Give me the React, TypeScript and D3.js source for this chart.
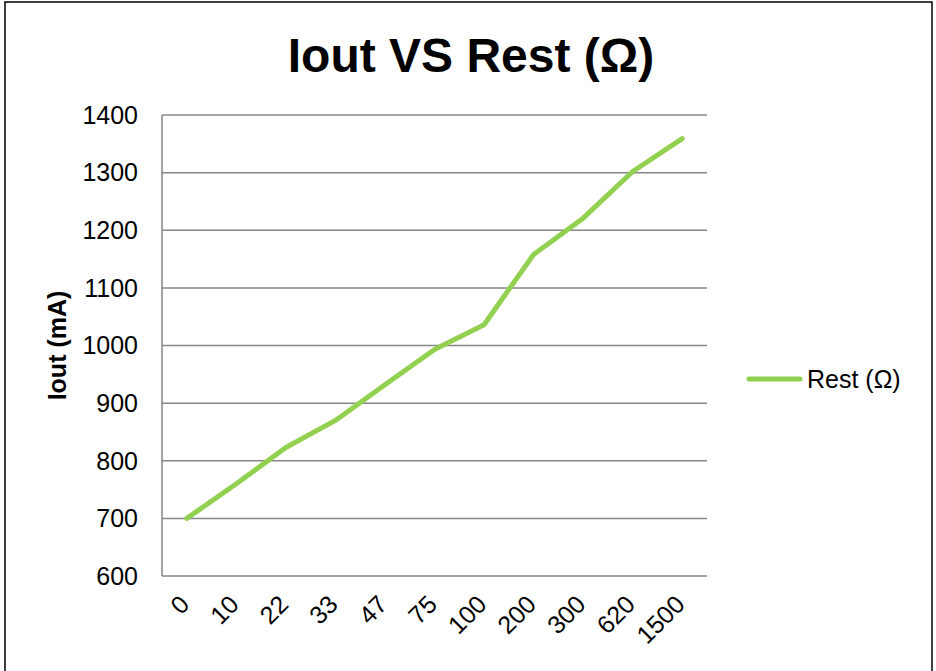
import { useEffect, useRef } from 'react';
import * as d3 from 'd3';

// category labels (Rest in ohm) and measured Iout values (mA)
const restLabels = ['0', '10', '22', '33', '47', '75', '100', '200', '300', '620', '1500'];
const ioutValues = [700, 760, 823, 870, 932, 993, 1036, 1158, 1221, 1302, 1359];
const yTicks = [600, 700, 800, 900, 1000, 1100, 1200, 1300, 1400];

const seriesName = 'Rest (Ω)';
const titleText = 'Iout VS Rest (Ω)';
const yTitle = 'Iout (mA)';

const W = 936;
const H = 671;

export default function App() {
  const svgRef = useRef<SVGSVGElement>(null);

  useEffect(() => {
    if (!svgRef.current) return;
    const svg = d3.select(svgRef.current);
    svg.selectAll('*').remove();

    const font = '"Liberation Sans", Arial, sans-serif';
    const plot = { left: 162, right: 707, top: 115, bottom: 576 };

    // outer chart border
    svg.append('rect')
      .attr('x', 5).attr('y', 2)
      .attr('width', 927).attr('height', 690)
      .attr('fill', '#fff')
      .attr('stroke', '#000')
      .attr('stroke-width', 1.5);

    const x = d3.scaleBand()
      .domain(restLabels)
      .range([plot.left, plot.right])
      .padding(0);

    const y = d3.scaleLinear()
      .domain([600, 1400])
      .range([plot.bottom, plot.top]);

    const cx = (d: string) => (x(d) || 0) + x.bandwidth() / 2;

    // gridlines
    svg.append('g')
      .selectAll('line')
      .data(yTicks)
      .enter()
      .append('line')
      .attr('x1', plot.left).attr('x2', plot.right)
      .attr('y1', d => y(d)).attr('y2', d => y(d))
      .attr('stroke', '#868686')
      .attr('stroke-width', 1.5);

    // left axis line
    svg.append('line')
      .attr('x1', plot.left).attr('x2', plot.left)
      .attr('y1', plot.top).attr('y2', plot.bottom)
      .attr('stroke', '#868686')
      .attr('stroke-width', 1.5);

    // y tick labels
    svg.append('g')
      .selectAll('text')
      .data(yTicks)
      .enter()
      .append('text')
      .attr('x', 138)
      .attr('y', d => y(d))
      .attr('dy', '0.35em')
      .attr('text-anchor', 'end')
      .style('font-family', font)
      .style('font-size', '25px')
      .attr('fill', '#000')
      .text(d => d);

    // x tick labels, rotated
    svg.append('g')
      .selectAll('text')
      .data(restLabels)
      .enter()
      .append('text')
      .attr('transform', d => `translate(${cx(d) + 4},${606}) rotate(-45)`)
      .attr('text-anchor', 'end')
      .style('font-family', font)
      .style('font-size', '25px')
      .attr('fill', '#000')
      .text(d => d);

    // series line
    const line = d3.line<number>()
      .x((_, i) => cx(restLabels[i]))
      .y(d => y(d));

    svg.append('path')
      .datum(ioutValues)
      .attr('d', line)
      .attr('fill', 'none')
      .attr('stroke', '#92D050')
      .attr('stroke-width', 5)
      .attr('stroke-linejoin', 'round')
      .attr('stroke-linecap', 'round');

    // title
    svg.append('text')
      .attr('x', 471)
      .attr('y', 72)
      .attr('text-anchor', 'middle')
      .style('font-family', font)
      .style('font-size', '48px')
      .style('font-weight', 'bold')
      .attr('fill', '#000')
      .text(titleText);

    // y axis title
    svg.append('text')
      .attr('transform', `translate(66,${(plot.top + plot.bottom) / 2}) rotate(-90)`)
      .attr('text-anchor', 'middle')
      .style('font-family', font)
      .style('font-size', '25px')
      .style('font-weight', 'bold')
      .attr('fill', '#000')
      .text(yTitle);

    // legend
    const lg = svg.append('g');
    lg.append('line')
      .attr('x1', 749).attr('x2', 800)
      .attr('y1', 379).attr('y2', 379)
      .attr('stroke', '#92D050')
      .attr('stroke-width', 5)
      .attr('stroke-linecap', 'round');
    lg.append('text')
      .attr('x', 807)
      .attr('y', 379)
      .attr('dy', '0.35em')
      .style('font-family', font)
      .style('font-size', '25px')
      .attr('fill', '#000')
      .text(seriesName);
  }, []);

  return (
    <svg
      ref={svgRef}
      width={W}
      height={H}
      style={{ position: 'fixed', left: 0, top: 0, display: 'block', background: '#fff' }}
    />
  );
}
